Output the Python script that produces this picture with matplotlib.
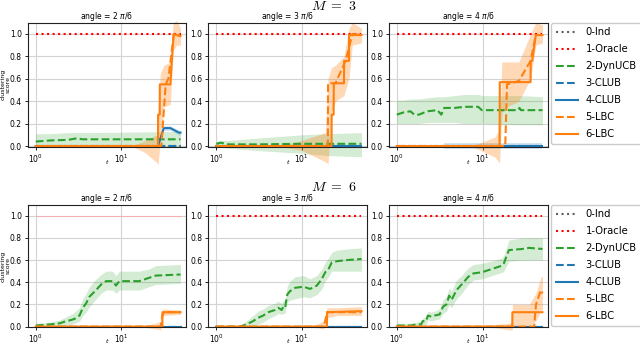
import matplotlib
matplotlib.use("Agg")
import matplotlib.pyplot as plt
import numpy as np

plt.rcParams['mathtext.fontset'] = 'dejavusans'

# ---------------- data ----------------
T_END = 50
angle_labels = ["angle = 2 $\\pi$/6", "angle = 3 $\\pi$/6", "angle = 4 $\\pi$/6"]
row_titles = ["$M\\ =\\ 3$", "$M\\ =\\ 6$"]
legend_labels = ["0-Ind", "1-Oracle", "2-DynUCB", "3-CLUB", "4-CLUB", "5-LBC", "6-LBC"]
x_ticks = [1, 10]
y_ticks = [0.0, 0.2, 0.4, 0.6, 0.8, 1.0]

# ---- M=3, angle 2pi/6
m3a2_dyn_t = [1, 1.5, 2.4, 3.1, 3.5, 4.1, 50]
m3a2_dyn_y = [0.04, 0.05, 0.055, 0.07, 0.06, 0.06, 0.06]
m3a2_dyn_lo = [-0.01, -0.01, -0.01, -0.01, -0.01, -0.01, -0.01]
m3a2_dyn_hi = [0.11, 0.11, 0.12, 0.12, 0.12, 0.12, 0.13]
m3a2_clubs_t = [1, 27.2, 31.8, 38, 47.9, 50]
m3a2_clubs_y = [0, 0, 0.16, 0.16, 0.12, 0.12]
m3a2_clubs_lo = [0, 0, 0.14, 0.14, 0.10, 0.10]
m3a2_clubs_hi = [0, 0, 0.18, 0.18, 0.14, 0.14]
m3a2_lbcd_t = [1, 29.8, 33.5, 36, 41.8, 50]
m3a2_lbcd_y = [0, 0, 0.55, 0.6, 1.0, 0.98]
m3a2_lbcs_t = [1, 27.2, 27.3, 28.5, 28.6, 38, 41.5, 45, 50]
m3a2_lbcs_y = [0, 0, 0.28, 0.28, 0.55, 0.55, 1.0, 0.99, 0.98]
m3a2_band_t = [13.4, 19.3, 26.5, 27.2, 29, 32, 38, 41, 45, 50]
m3a2_band_lo = [0, -0.06, -0.15, -0.17, 0.05, 0.35, 0.37, 0.85, 0.9, 0.9]
m3a2_band_hi = [0, 0.05, 0.1, 0.3, 0.65, 0.72, 0.75, 1.1, 1.12, 1.05]

# ---- M=3, angle 3pi/6
m3a3_dyn_t = [1, 1.13, 1.4, 3, 10, 20, 50]
m3a3_dyn_y = [0.02, 0.03, 0.015, 0.015, 0.02, 0.02, 0.02]
m3a3_dyn_lo = [0, -0.01, -0.02, -0.04, -0.065, -0.085, -0.095]
m3a3_dyn_hi = [0.04, 0.05, 0.05, 0.07, 0.10, 0.11, 0.12]
m3a3_clubs_t = [1, 50]
m3a3_clubs_y = [0, 0]
m3a3_clubs_lo = [0, 0]
m3a3_clubs_hi = [0, 0]
m3a3_lbcd_t = [1, 20.2, 20.3, 24.8, 32.6, 39.2, 50]
m3a3_lbcd_y = [0, 0, 0.56, 0.56, 0.76, 1.0, 0.99]
m3a3_lbcs_t = [1, 22.3, 22.4, 23.6, 23.7, 31.2, 31.3, 35.7, 35.8, 50]
m3a3_lbcs_y = [0, 0, 0.28, 0.28, 0.56, 0.56, 0.76, 0.76, 0.99, 0.99]
m3a3_band_t = [5.3, 10, 18.9, 20.3, 22.3, 24.8, 31.2, 35.7, 39, 50]
m3a3_band_lo = [0, -0.04, -0.14, -0.16, 0.3, 0.4, 0.45, 0.6, 0.9, 0.92]
m3a3_band_hi = [0, 0.05, 0.12, 0.6, 0.7, 0.72, 0.8, 1.05, 1.1, 1.05]

# ---- M=3, angle 4pi/6
m3a4_dyn_t = [1, 1.2, 1.44, 1.6, 1.81, 2.27, 2.98, 3.3, 3.57, 4.7, 6.2, 8.9, 9.8, 26, 27, 28, 50]
m3a4_dyn_y = [0.28, 0.3, 0.31, 0.28, 0.28, 0.31, 0.32, 0.28, 0.34, 0.34, 0.35, 0.35, 0.32, 0.32, 0.34, 0.32, 0.32]
m3a4_dyn_lo = [0.2, 0.2, 0.2, 0.2, 0.2, 0.21, 0.21, 0.21, 0.21, 0.21, 0.2, 0.2, 0.2, 0.19, 0.19, 0.19, 0.19]
m3a4_dyn_hi = [0.41, 0.41, 0.42, 0.42, 0.42, 0.43, 0.44, 0.44, 0.44, 0.45, 0.46, 0.46, 0.45, 0.45, 0.45, 0.45, 0.44]
m3a4_clubs_t = [3.57, 14, 50]
m3a4_clubs_y = [0, 0, 0]
m3a4_clubs_lo = [-0.03, -0.03, -0.03]
m3a4_clubs_hi = [0.03, 0.03, 0.03]
m3a4_lbcd_t = [1, 18.4, 19.3, 26.5, 36.4, 41.8, 50]
m3a4_lbcd_y = [0, 0, 0.55, 0.58, 0.76, 0.99, 0.99]
m3a4_lbcs_t = [1, 15.8, 15.9, 36.3, 36.5, 38, 41.8, 50]
m3a4_lbcs_y = [0, 0, 0.57, 0.57, 0.76, 0.76, 0.99, 0.99]
m3a4_band_t = [7.4, 14, 15.8, 16.8, 19.3, 26.5, 36.4, 41.8, 50]
m3a4_band_lo = [0, -0.1, -0.15, 0.3, 0.35, 0.4, 0.6, 0.9, 0.92]
m3a4_band_hi = [0, 0.08, 0.15, 0.75, 0.75, 0.75, 1.0, 1.1, 1.08]

# ---- M=6, angle 2pi/6
m6a2_dyn_t = [1, 1.46, 1.91, 2.28, 2.61, 2.85, 3.26, 3.57, 3.9, 4.27, 5.11, 5.85, 6.68, 8.0, 8.74, 9.57, 11.4, 16.4, 21.4, 25.6, 50]
m6a2_dyn_y = [0.01, 0.02, 0.03, 0.05, 0.06, 0.07, 0.10, 0.17, 0.21, 0.27, 0.33, 0.38, 0.41, 0.41, 0.37, 0.41, 0.41, 0.41, 0.44, 0.46, 0.47]
m6a2_dyn_lo = [0, 0, 0, 0.01, 0.02, 0.03, 0.05, 0.1, 0.13, 0.18, 0.25, 0.3, 0.33, 0.33, 0.3, 0.33, 0.33, 0.33, 0.36, 0.38, 0.39]
m6a2_dyn_hi = [0.03, 0.04, 0.06, 0.09, 0.11, 0.13, 0.17, 0.25, 0.3, 0.36, 0.43, 0.47, 0.5, 0.5, 0.46, 0.5, 0.5, 0.5, 0.52, 0.55, 0.56]
m6a2_clubs_t = [1, 50]
m6a2_clubs_y = [0, 0]
m6a2_clubs_lo = [0, 0]
m6a2_clubs_hi = [0, 0]
m6a2_lbcd_t = [1, 29.3, 30.6, 32, 50]
m6a2_lbcd_y = [0, 0, 0.1, 0.13, 0.13]
m6a2_lbcs_t = [1, 30.6, 30.7, 50]
m6a2_lbcs_y = [0, 0, 0.13, 0.13]
m6a2_band_t = [16.4, 25.6, 29.3, 30.6, 50]
m6a2_band_lo = [0, -0.02, -0.03, 0.1, 0.11]
m6a2_band_hi = [0, 0.03, 0.05, 0.16, 0.15]

# ---- M=6, angle 3pi/6
m6a3_dyn_t = [1, 1.88, 2.25, 2.7, 3.09, 3.54, 4.05, 4.86, 5.31, 5.82, 6.09, 6.37, 6.78, 7.29, 8.35, 10.5, 12.5, 15.0, 17.2, 18.8, 20.6, 22.5, 25.8, 33.8, 50]
m6a3_dyn_y = [0, 0, 0.02, 0.05, 0.08, 0.1, 0.13, 0.15, 0.17, 0.15, 0.18, 0.17, 0.29, 0.32, 0.35, 0.36, 0.34, 0.37, 0.43, 0.49, 0.52, 0.58, 0.59, 0.6, 0.61]
m6a3_dyn_lo = [0, 0, 0, 0, 0.02, 0.04, 0.07, 0.1, 0.12, 0.11, 0.12, 0.12, 0.22, 0.24, 0.25, 0.27, 0.26, 0.29, 0.34, 0.41, 0.45, 0.5, 0.5, 0.5, 0.5]
m6a3_dyn_hi = [0.01, 0.01, 0.05, 0.1, 0.14, 0.16, 0.19, 0.21, 0.23, 0.21, 0.24, 0.23, 0.37, 0.41, 0.45, 0.46, 0.43, 0.46, 0.52, 0.58, 0.62, 0.67, 0.69, 0.7, 0.71]
m6a3_clubs_t = [1, 50]
m6a3_clubs_y = [0, 0]
m6a3_clubs_lo = [0, 0]
m6a3_clubs_hi = [0, 0]
m6a3_lbcd_t = [1, 18.0, 18.8, 19.7, 50]
m6a3_lbcd_y = [0, 0, 0.05, 0.13, 0.13]
m6a3_lbcs_t = [1, 19.7, 19.8, 50]
m6a3_lbcs_y = [0, 0, 0.13, 0.14]
m6a3_band_t = [10.5, 15, 18.0, 19.7, 25.8, 50]
m6a3_band_lo = [0, -0.01, -0.02, 0.08, 0.1, 0.1]
m6a3_band_hi = [0, 0.02, 0.05, 0.17, 0.17, 0.18]

# ---- M=6, angle 4pi/6
m6a4_dyn_t = [1, 1.46, 1.68, 1.92, 2.01, 2.2, 2.3, 2.52, 2.76, 3.16, 3.46, 3.79, 4.08, 4.34, 4.98, 5.7, 6.83, 7.83, 9.82, 14.1, 16.9, 17.7, 20.3, 29.1, 34.9, 50]
m6a4_dyn_y = [0.01, 0.01, 0.02, 0.02, 0.05, 0.05, 0.1, 0.09, 0.1, 0.11, 0.18, 0.2, 0.28, 0.24, 0.33, 0.38, 0.45, 0.48, 0.49, 0.53, 0.55, 0.57, 0.69, 0.7, 0.71, 0.7]
m6a4_dyn_lo = [0, 0, 0, 0, 0.02, 0.02, 0.06, 0.05, 0.06, 0.07, 0.12, 0.14, 0.2, 0.17, 0.25, 0.3, 0.38, 0.42, 0.43, 0.47, 0.49, 0.5, 0.59, 0.6, 0.6, 0.6]
m6a4_dyn_hi = [0.03, 0.03, 0.04, 0.05, 0.08, 0.09, 0.14, 0.13, 0.14, 0.16, 0.24, 0.27, 0.35, 0.32, 0.42, 0.46, 0.53, 0.56, 0.57, 0.6, 0.62, 0.64, 0.78, 0.8, 0.8, 0.8]
m6a4_clubs_t = [1, 50]
m6a4_clubs_y = [0, 0]
m6a4_clubs_lo = [0, 0]
m6a4_clubs_hi = [0, 0]
m6a4_lbcd_t = [1, 40, 42, 48, 50]
m6a4_lbcd_y = [0, 0, 0.2, 0.33, 0.3]
m6a4_lbcs_t = [1, 22.2, 22.3, 50]
m6a4_lbcs_y = [0, 0, 0.13, 0.13]
m6a4_band_t = [7.8, 14.1, 20.3, 22.2, 22.3, 35, 42, 48, 50]
m6a4_band_lo = [0, -0.01, -0.03, -0.03, 0.0, 0.0, 0.05, 0.15, 0.15]
m6a4_band_hi = [0, 0.02, 0.03, 0.04, 0.2, 0.2, 0.3, 0.45, 0.45]

oracle_y = 1.0
ind_y = 0.0

# ---------------- assemble ----------------
def panel(p):
    g = globals()
    return {k: g[p + "_" + k] for k in
            ["dyn_t", "dyn_y", "dyn_lo", "dyn_hi", "clubs_t", "clubs_y", "clubs_lo", "clubs_hi",
             "lbcd_t", "lbcd_y", "lbcs_t", "lbcs_y", "band_t", "band_lo", "band_hi"]}

panels = [[panel("m3a2"), panel("m3a3"), panel("m3a4")],
          [panel("m6a2"), panel("m6a3"), panel("m6a4")]]

C_GREEN = '#2ca02c'
C_BLUE = '#1f77b4'
C_ORANGE = '#ff7f0e'
C_RED = '#ff0000'
C_GRAY = '#606060'

W, H = 640, 344
fig = plt.figure(figsize=(W / 100, H / 100), dpi=100)

col_x = [(27.5, 186), (208, 367), (388.5, 548)]
row_y = [(22.7, 146.6), (204.6, 327.2)]
xlabel_y = [-0.105, -0.095]
LW = 1.5

for r in range(2):
    for c in range(3):
        d = panels[r][c]
        x0, x1 = col_x[c]
        yt, yb = row_y[r]
        ax = fig.add_axes([x0 / W, 1 - yb / H, (x1 - x0) / W, (yb - yt) / H])
        ax.set_xscale('log')
        ax.set_xlim(0.8, 58)
        ax.set_ylim(-0.005, 1.1)
        ax.grid(True, color='#d3d3d3', lw=0.8)
        ax.set_axisbelow(True)
        tt = [1, T_END]
        ax.plot(tt, [ind_y, ind_y], ls=':', color=C_GRAY, lw=LW, label=legend_labels[0])
        if r == 1 and c == 0:
            ax.plot(tt, [oracle_y, oracle_y], ls='-', color='#f7b0b0', lw=0.7, label=legend_labels[1])
        else:
            ax.plot(tt, [oracle_y, oracle_y], ls=':', color=C_RED, lw=LW, label=legend_labels[1])
        ax.fill_between(d["dyn_t"], d["dyn_lo"], d["dyn_hi"], color=C_GREEN, alpha=0.2, lw=0, clip_on=False)
        ax.plot(d["dyn_t"], d["dyn_y"], ls='--', color=C_GREEN, lw=LW, label=legend_labels[2])
        ax.plot(tt, [0, 0], ls='--', color=C_BLUE, lw=LW, label=legend_labels[3])
        ax.fill_between(d["clubs_t"], d["clubs_lo"], d["clubs_hi"], color=C_BLUE, alpha=0.2, lw=0, clip_on=False)
        ax.plot(d["clubs_t"], d["clubs_y"], ls='-', color=C_BLUE, lw=LW, label=legend_labels[4])
        ax.fill_between(d["band_t"], d["band_lo"], d["band_hi"], color=C_ORANGE, alpha=0.3, lw=0, clip_on=False)
        ax.plot(d["lbcd_t"], d["lbcd_y"], ls='--', color=C_ORANGE, lw=LW, label=legend_labels[5])
        ax.plot(d["lbcs_t"], d["lbcs_y"], ls='-', color=C_ORANGE, lw=LW, label=legend_labels[6])

        ax.set_xticks(x_ticks)
        ax.xaxis.set_minor_locator(matplotlib.ticker.NullLocator())
        ax.set_yticks(y_ticks)
        ax.set_yticklabels(["%.1f" % v for v in y_ticks])
        ax.tick_params(labelsize=5.5, length=2.5, width=0.6, pad=1.5)
        ax.set_title(angle_labels[c], fontsize=5.5, pad=2.5)
        ax.set_xlabel("t", fontsize=4.5, style='italic')
        ax.xaxis.set_label_coords(0.5, xlabel_y[r])
        for s in ax.spines.values():
            s.set_linewidth(0.8)
            s.set_color('#222222')
        if c == 0:
            fig.text(6 / W, 1 - ((yt + yb) / 2) / H, "clustering\nscore", rotation=90,
                     fontsize=4.5, ha='center', va='center', linespacing=1.0)
        if c == 2:
            h, l = ax.get_legend_handles_labels()
            fig.legend(h, l, loc='upper left', bbox_to_anchor=(551 / W, 1 - yt / H),
                       borderaxespad=0, fontsize=7.2, handlelength=2.2, labelspacing=0.7,
                       borderpad=0.45, handletextpad=0.8, framealpha=1, edgecolor='#cccccc')

fig.text(334 / W, 1 - 10 / H, row_titles[0], fontsize=10, ha='center', va='baseline',
         math_fontfamily='cm')
fig.text(334 / W, 1 - 191 / H, row_titles[1], fontsize=10, ha='center', va='baseline',
         math_fontfamily='cm')

fig.savefig("out.png", dpi=100)
